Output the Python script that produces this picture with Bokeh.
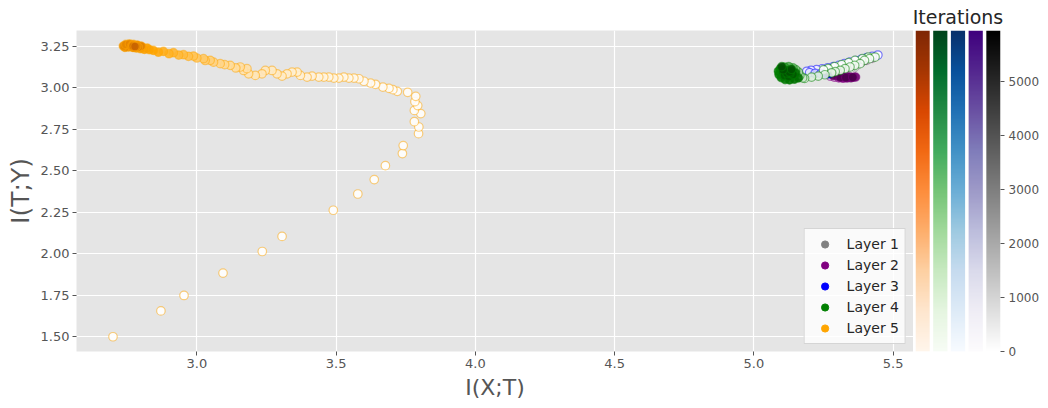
import numpy as np
from bokeh.plotting import figure
from bokeh.models import (Range1d, FixedTicker, PrintfTickFormatter, LinearColorMapper,
                          ColumnDataSource, Legend, LegendItem)
from bokeh.layouts import row
from bokeh.palettes import Oranges256, Greens256, Blues256, Purples256, Greys256
from bokeh.embed import file_html
from bokeh.resources import INLINE

MAX_ITER = 5940

# ---------------- data ----------------
layer_names = ["Layer 1", "Layer 2", "Layer 3", "Layer 4", "Layer 5"]
layer_colors = ["#808080", "#800080", "#0000ff", "#008000", "#ffa500"]

# Layer 1 (grey)
l1_x = [5.425, 5.405, 5.385, 5.370, 5.360, 5.352, 5.348, 5.346, 5.340, 5.330, 5.345, 5.335, 5.350, 5.340, 5.345]
l1_y = [3.178, 3.166, 3.152, 3.138, 3.122, 3.108, 3.094, 3.082, 3.072, 3.066, 3.062, 3.064, 3.062, 3.063, 3.062]
l1_it = [0, 80, 160, 240, 320, 420, 560, 800, 1200, 1800, 2500, 3300, 4200, 5000, 5900]

# Layer 2 (purple)
l2_x = [5.420, 5.400, 5.380, 5.360, 5.345, 5.330, 5.318, 5.305, 5.292, 5.280, 5.275, 5.290, 5.305,
        5.320, 5.335, 5.350, 5.365, 5.300, 5.320, 5.340, 5.285, 5.310, 5.330, 5.355]
l2_y = [3.180, 3.168, 3.156, 3.144, 3.132, 3.120, 3.108, 3.096, 3.086, 3.078, 3.070, 3.064, 3.060,
        3.058, 3.060, 3.062, 3.065, 3.072, 3.068, 3.066, 3.075, 3.064, 3.062, 3.064]
l2_it = [0, 60, 120, 180, 240, 300, 400, 500, 700, 1000, 1400, 1800, 2200,
         2600, 3000, 3400, 3800, 4200, 4600, 5000, 5300, 5550, 5750, 5900]

# Layer 3 (blue)
l3_x = [5.445, 5.425, 5.405, 5.385, 5.365, 5.345, 5.325, 5.305, 5.285, 5.265, 5.245, 5.225, 5.205, 5.190, 5.200, 5.220, 5.240, 5.255, 5.262, 5.268, 5.270, 5.268]
l3_y = [3.198, 3.190, 3.182, 3.172, 3.164, 3.156, 3.146, 3.136, 3.128, 3.120, 3.114, 3.110, 3.106, 3.100, 3.092, 3.088, 3.086, 3.085, 3.086, 3.087, 3.086, 3.087]
l3_it = [0, 50, 100, 150, 200, 250, 300, 350, 400, 450, 500, 550, 600, 700, 900, 1200, 1600, 2200, 3000, 4000, 5000, 5900]

# Layer 4 (green)
l4_x = [5.411, 5.390, 5.363, 5.340, 5.315, 5.290, 5.267, 5.250,
        5.435, 5.415, 5.397, 5.381, 5.362, 5.345, 5.327, 5.310, 5.292, 5.279, 5.255, 5.231, 5.207, 5.182,
        5.175, 5.165, 5.160, 5.150, 5.140, 5.125, 5.110, 5.095, 5.088, 5.090, 5.098, 5.112, 5.128, 5.145,
        5.160, 5.150, 5.135, 5.120, 5.105, 5.110, 5.125, 5.140, 5.130, 5.118, 5.128, 5.135, 5.105, 5.100]
l4_y = [3.186, 3.176, 3.166, 3.152, 3.140, 3.128, 3.116, 3.108,
        3.186, 3.176, 3.166, 3.146, 3.136, 3.126, 3.116, 3.106, 3.098, 3.091, 3.079, 3.071, 3.065, 3.057,
        3.060, 3.075, 3.095, 3.110, 3.120, 3.128, 3.125, 3.115, 3.100, 3.080, 3.062, 3.050, 3.048, 3.052,
        3.060, 3.090, 3.100, 3.105, 3.095, 3.075, 3.070, 3.080, 3.088, 3.090, 3.095, 3.112, 3.110, 3.128]
l4_it = [0, 50, 100, 150, 200, 250, 300, 350,
         400, 450, 500, 550, 600, 650, 700, 750, 800, 850, 900, 950, 1000, 1050,
         1200, 1400, 1600, 1800, 2000, 2200, 2400, 2600, 2800, 3000, 3200, 3400, 3600, 3800,
         4000, 4200, 4400, 4600, 4800, 5000, 5150, 5300, 5450, 5550, 5650, 5750, 5850, 5920]

# Layer 5 (orange)
l5_x = [2.699, 2.871, 2.954, 3.094, 3.235, 3.306, 3.490, 3.578, 3.637, 3.677, 3.738, 3.741, 3.796,
        3.797, 3.781, 3.804, 3.781, 3.793, 3.783, 3.786, 3.757, 3.720, 3.704, 3.690, 3.668,
        3.642, 3.624, 3.600, 3.582, 3.564, 3.546, 3.528, 3.510, 3.492, 3.474, 3.456, 3.438, 3.414,
        3.396, 3.372, 3.360, 3.342, 3.324, 3.306, 3.288, 3.270, 3.246, 3.234, 3.210, 3.186, 3.168,
        3.180, 3.156, 3.140, 3.120, 3.100, 3.084, 3.060, 3.048, 3.030, 3.024, 3.000, 2.988, 2.970,
        2.952, 2.935, 2.916, 2.900, 2.880, 2.862, 2.844,
        2.830, 2.822, 2.812, 2.805, 2.798, 2.790, 2.783, 2.776, 2.770, 2.762, 2.755, 2.748, 2.742,
        2.736, 2.745, 2.758, 2.772, 2.786, 2.800, 2.790, 2.778, 2.766, 2.774, 2.785, 2.770, 2.780,
        2.776, 2.770, 2.782, 2.776, 2.772, 2.778]
l5_y = [1.499, 1.655, 1.748, 1.883, 2.013, 2.104, 2.262, 2.360, 2.447, 2.531, 2.604, 2.652, 2.724,
        2.764, 2.796, 2.845, 2.864, 2.893, 2.917, 2.949, 2.973, 2.979, 2.989, 2.997, 3.005,
        3.021, 3.029, 3.040, 3.055, 3.059, 3.059, 3.065, 3.059, 3.059, 3.065, 3.065, 3.065, 3.071,
        3.065, 3.075, 3.095, 3.095, 3.085, 3.071, 3.085, 3.105, 3.105, 3.085, 3.075, 3.085, 3.105,
        3.116, 3.126, 3.120, 3.136, 3.140, 3.146, 3.155, 3.166, 3.165, 3.176, 3.180, 3.192, 3.190,
        3.200, 3.198, 3.212, 3.206, 3.220, 3.215, 3.226,
        3.230, 3.240, 3.232, 3.245, 3.236, 3.250, 3.240, 3.255, 3.244, 3.258, 3.246, 3.256, 3.244,
        3.252, 3.262, 3.265, 3.262, 3.258, 3.252, 3.246, 3.250, 3.252, 3.244, 3.252, 3.256, 3.248,
        3.252, 3.250, 3.250, 3.248, 3.252, 3.250]
l5_it = [0, 20, 40, 60, 80, 100, 120, 140, 160, 180, 200, 220, 240,
         260, 280, 300, 320, 340, 360, 380, 400, 420, 440, 460, 480,
         520, 560, 600, 640, 680, 720, 760, 800, 840, 880, 920, 960, 1000,
         1040, 1080, 1120, 1160, 1200, 1240, 1280, 1320, 1360, 1400, 1440, 1480, 1520,
         1560, 1600, 1640, 1700, 1760, 1820, 1880, 1940, 2000, 2060, 2120, 2180, 2240,
         2300, 2360, 2420, 2480, 2540, 2600, 2680,
         2780, 2880, 2980, 3080, 3180, 3280, 3380, 3480, 3580, 3680, 3780, 3880, 3980,
         4080, 4180, 4280, 4380, 4480, 4580, 4680, 4780, 4880, 4980, 5080, 5180, 5280,
         5380, 5480, 5580, 5680, 5780, 5880]

layers_x = [l1_x, l2_x, l3_x, l4_x, l5_x]
layers_y = [l1_y, l2_y, l3_y, l4_y, l5_y]
layers_it = [l1_it, l2_it, l3_it, l4_it, l5_it]

x_ticks = [3.0, 3.5, 4.0, 4.5, 5.0, 5.5]
y_ticks = [1.5, 1.75, 2.0, 2.25, 2.5, 2.75, 3.0, 3.25]
cbar_ticks = [0, 1000, 2000, 3000, 4000, 5000]

# ---------------- styling helpers ----------------
FONT = "DejaVu Sans"
fill_stops = [
    ["#ffffff", "#a0a0a0", "#505050"],
    ["#ffffff", "#800080", "#4a004a"],
    ["#ffffff", "#0000ff", "#00008a"],
    ["#ffffff", "#008000", "#004d00"],
    ["#ffffff", "#ffa500", "#c86400"],
]
cbar_palettes = [list(reversed(Oranges256)), list(reversed(Greens256)), list(reversed(Blues256)),
                 list(reversed(Purples256)), list(reversed(Greys256))]


def _rgb(h):
    h = h.lstrip("#")
    return np.array([int(h[i:i + 2], 16) for i in (0, 2, 4)], dtype=float)


def ramp(stops, knee=0.45, gamma=2.0, n=256):
    a, b, c = [_rgb(s) for s in stops]
    out = []
    for t in np.linspace(0, 1, n):
        if t <= knee:
            col = a + (b - a) * (t / knee) ** gamma
        else:
            col = b + (c - b) * ((t - knee) / (1 - knee))
        out.append("#%02x%02x%02x" % tuple(int(round(v)) for v in col))
    return out


# ---------------- main figure ----------------
p = figure(width=913, height=408, x_range=Range1d(2.568, 5.573), y_range=Range1d(1.41, 3.346),
           output_backend="svg", toolbar_location=None,
           min_border_left=76, min_border_right=0, min_border_top=30, min_border_bottom=57)
p.background_fill_color = "#E5E5E5"
p.border_fill_color = "white"
p.outline_line_color = None
p.grid.grid_line_color = "white"
p.grid.grid_line_width = 1.2
p.xaxis.ticker = FixedTicker(ticks=x_ticks)
p.yaxis.ticker = FixedTicker(ticks=y_ticks)
p.xaxis.formatter = PrintfTickFormatter(format="%.1f")
p.yaxis.formatter = PrintfTickFormatter(format="%.2f")
for ax in (p.xaxis, p.yaxis):
    ax.axis_line_color = None
    ax.major_tick_line_color = "#555555"
    ax.major_tick_out = 4
    ax.major_tick_in = 0
    ax.minor_tick_line_color = None
    ax.major_label_text_font = FONT
    ax.major_label_text_font_size = "13px"
    ax.major_label_text_color = "#555555"
    ax.major_label_standoff = 3
    ax.axis_label_text_font = FONT
    ax.axis_label_text_font_style = "normal"
    ax.axis_label_text_color = "#555555"
p.xaxis.axis_label = "I(X;T)"
p.yaxis.axis_label = "I(T;Y)"
p.xaxis.axis_label_text_font_size = "22px"
p.xaxis.axis_label_standoff = 4
p.yaxis.axis_label_text_font_size = "25px"
p.yaxis.axis_label_standoff = 3

for i in range(5):
    src = ColumnDataSource(dict(x=layers_x[i], y=layers_y[i], it=layers_it[i]))
    mapper = LinearColorMapper(palette=ramp(fill_stops[i]), low=0, high=MAX_ITER)
    p.scatter("x", "y", source=src, size=8.5, marker="circle",
              fill_color={"field": "it", "transform": mapper}, fill_alpha=0.9,
              line_color=layer_colors[i], line_alpha=0.5, line_width=1.2)

# legend proxies (NaN position: nothing drawn in the plot area)
items = []
for i in range(5):
    r = p.scatter(x=[float("nan")], y=[float("nan")], marker="circle", size=9,
                  fill_color=layer_colors[i], line_color=layer_colors[i])
    items.append(LegendItem(label=layer_names[i], renderers=[r]))
legend = Legend(items=items, location="bottom_right")
legend.margin = 7
legend.padding = 6
legend.spacing = 3
legend.glyph_width = 28
legend.glyph_height = 18
legend.label_height = 18
legend.label_standoff = 8
legend.label_text_font = FONT
legend.label_text_font_size = "14px"
legend.label_text_color = "#262626"
legend.background_fill_color = "white"
legend.background_fill_alpha = 0.8
legend.border_line_color = "#cccccc"
legend.border_line_alpha = 0.8
p.add_layout(legend)

# ---------------- colorbars figure ----------------
p2 = figure(width=135, height=408, x_range=Range1d(-0.4, 4.4), y_range=Range1d(0, MAX_ITER),
            output_backend="svg", toolbar_location=None, y_axis_location="right",
            min_border_left=2, min_border_right=48, min_border_top=30, min_border_bottom=57)
p2.xaxis.visible = False
p2.grid.visible = False
p2.outline_line_color = None
p2.background_fill_color = "white"
grad = np.linspace(0, MAX_ITER, 256).reshape(256, 1)
for i, pal in enumerate(cbar_palettes):
    cm = LinearColorMapper(palette=pal, low=0, high=MAX_ITER)
    p2.image(image=[grad], x=i - 0.4, y=0, dw=0.8, dh=MAX_ITER, color_mapper=cm)
p2.yaxis.ticker = FixedTicker(ticks=cbar_ticks)
p2.yaxis.axis_line_color = None
p2.yaxis.major_tick_line_color = "#555555"
p2.yaxis.major_tick_out = 4
p2.yaxis.major_tick_in = 0
p2.yaxis.minor_tick_line_color = None
p2.yaxis.major_label_text_font = FONT
p2.yaxis.major_label_text_font_size = "12px"
p2.yaxis.major_label_text_color = "#555555"
p2.yaxis.major_label_standoff = 4
p2.title.text = "Iterations"
p2.title.align = "center"
p2.title.text_font = FONT
p2.title.text_font_size = "19px"
p2.title.text_font_style = "normal"
p2.title.text_color = "#262626"
p2.title.standoff = 5

layout = row(p, p2)
open("out.html", "w").write(file_html(layout, INLINE))
